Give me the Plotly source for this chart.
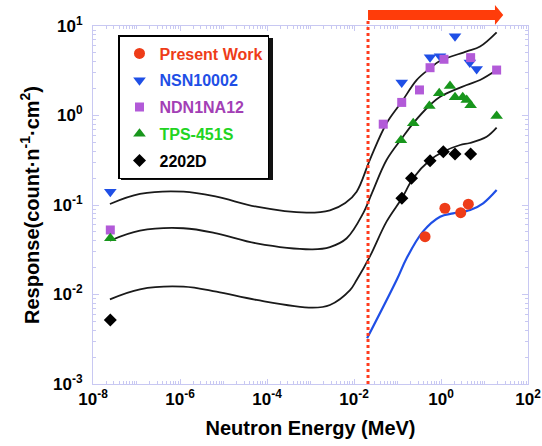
import plotly.graph_objects as go

# ---------------- data ----------------
# calculated response curves (energy in MeV, response in count n^-1 cm^2)
curve_top_E = [2.45e-8, 1.2e-7, 1.2e-6, 6.9e-6, 5.75e-5, 8.1e-4, 2.8e-3, 6.3e-3, 0.0115, 0.0234,
               0.056, 0.126, 0.275, 0.56, 0.955, 3.9, 7.9, 19]
curve_top_R = [0.1026, 0.133, 0.141, 0.124, 0.0957, 0.082, 0.087, 0.105, 0.141, 0.324,
               0.818, 1.43, 2.49, 3.37, 4.09, 5.2, 5.9, 8.5]

curve_mid_E = [2.45e-8, 1.2e-7, 1.2e-6, 6.9e-6, 5.75e-5, 1.12e-3, 2.8e-3, 6.8e-3, 0.0162, 0.0257,
               0.056, 0.126, 0.229, 0.56, 0.955, 3.9, 7.9, 19]
curve_mid_R = [0.0399, 0.0516, 0.055, 0.0483, 0.0373, 0.032, 0.0339, 0.0425, 0.0807, 0.135,
               0.318, 0.556, 0.818, 1.31, 1.62, 2.19, 2.49, 3.22]

curve_low_E = [2.45e-8, 1.2e-7, 1.2e-6, 6.9e-6, 5.75e-5, 1.12e-3, 2.8e-3, 8.1e-3, 0.0115, 0.0234,
               0.056, 0.126, 0.229, 0.56, 1.12, 2.75, 4.6, 11.2, 19]
curve_low_R = [0.00883, 0.01143, 0.01222, 0.01074, 0.00869, 0.00713, 0.00764, 0.0112, 0.0145, 0.0269,
               0.0652, 0.119, 0.199, 0.318, 0.394, 0.468, 0.493, 0.579, 0.731]

curve_blue_E = [0.02, 0.0955, 0.162, 0.38, 0.955, 1.9, 4.7, 9.3, 19]
curve_blue_R = [0.00324, 0.0145, 0.0254, 0.0501, 0.074, 0.0807, 0.0879, 0.1045, 0.147]

# measured points
present_E = [0.43, 1.23, 2.84, 4.25]
present_R = [0.0443, 0.092, 0.082, 0.102]

nsn_E = [2.5e-8, 0.125, 0.56, 0.95, 2.1, 4.6, 6.6]
nsn_R = [0.141, 2.33, 4.47, 4.6, 7.7, 3.9, 3.3]

ndn_E = [2.5e-8, 0.047, 0.125, 0.32, 0.56, 1.17, 4.8, 19]
ndn_R = [0.0526, 0.80, 1.40, 1.93, 3.42, 4.25, 4.43, 3.22]

tps_E = [2.5e-8, 0.12, 0.23, 0.54, 0.91, 1.61, 2.1, 3.16, 3.9, 4.8, 19]
tps_R = [0.0425, 0.53, 0.82, 1.28, 1.77, 2.14, 1.60, 1.60, 1.49, 1.30, 0.99]

d2202_E = [2.5e-8, 0.126, 0.21, 0.56, 1.13, 2.1, 4.8]
d2202_R = [0.0052, 0.119, 0.199, 0.313, 0.394, 0.372, 0.372]

threshold_E = 0.021          # dotted vertical line
arrow_E = [0.021, 17.4, 27]  # start, head base, tip

x_ticks = [1e-8, 1e-6, 1e-4, 1e-2, 1e0, 1e2]
x_ticktext = ["10<sup>-8</sup>", "10<sup>-6</sup>", "10<sup>-4</sup>", "10<sup>-2</sup>",
              "10<sup>0</sup>", "10<sup>2</sup>"]
y_ticks = [1e-3, 1e-2, 1e-1, 1e0, 1e1]
y_ticktext = ["10<sup>-3</sup>", "10<sup>-2</sup>", "10<sup>-1</sup>", "10<sup>0</sup>", "10<sup>1</sup>"]

# ---------------- styling ----------------
RED = "#ee3c18"
BLUE = "#1f4fe6"
PURPLE = "#b25ad8"
GREEN_M = "#18961c"
GREEN_T = "#22d422"
PURPLE_T = "#a33fb5"
FRAME = "#c8c8f2"
FONT = "Liberation Sans, Arial, sans-serif"

fig = go.Figure()

for E, R in [(curve_top_E, curve_top_R), (curve_mid_E, curve_mid_R), (curve_low_E, curve_low_R)]:
    fig.add_trace(go.Scatter(x=E, y=R, mode="lines", line=dict(color="#1a1a1a", width=1.8, shape="spline", smoothing=1.0),
                             showlegend=False, hoverinfo="skip"))
fig.add_trace(go.Scatter(x=curve_blue_E, y=curve_blue_R, mode="lines",
                         line=dict(color=BLUE, width=2.2, shape="spline", smoothing=1.0),
                         showlegend=False, hoverinfo="skip"))

series = [
    ("Present Work", present_E, present_R, "circle", RED, 11, RED),
    ("NSN10002", nsn_E, nsn_R, "triangle-down", BLUE, 11, BLUE),
    ("NDN1NA12", ndn_E, ndn_R, "square", PURPLE, 9, PURPLE_T),
    ("TPS-451S", tps_E, tps_R, "triangle-up", GREEN_M, 11, GREEN_T),
    ("2202D", d2202_E, d2202_R, "diamond", "#000000", 10, "#000000"),
]
for i, (name, E, R, sym, col, size, tcol) in enumerate(series):
    fig.add_trace(go.Scatter(
        x=E, y=R, mode="markers",
        marker=dict(symbol=sym, color=col, size=size, line=dict(width=0)),
        name=f"<span style='color:{tcol}'>{name}</span>",
        legendgroup=f"g{i}", cliponaxis=False))

# plot area in pixels: x 93..528, y 26..384
def py(px):
    return (384 - px) / 358.0
def pxp(px):
    return (px - 93) / 435.0

shapes = [
    # dotted threshold line
    dict(type="line", xref="x", yref="paper", x0=threshold_E, x1=threshold_E, y0=0, y1=py(19),
         line=dict(color="#ff3c1e", width=3, dash="dot"), layer="above"),
    # arrow
    dict(type="path", xref="x", yref="paper",
         path=(f"M {arrow_E[0]} {py(10)} L {arrow_E[1]} {py(10)} L {arrow_E[1]} {py(5)} "
               f"L {arrow_E[2]} {py(15)} L {arrow_E[1]} {py(25)} L {arrow_E[1]} {py(20)} "
               f"L {arrow_E[0]} {py(20)} Z"),
         fillcolor="#ff3c0a", line=dict(width=0), layer="above"),
    # legend shadow
    dict(type="rect", xref="paper", yref="paper", x0=pxp(121), x1=pxp(273), y0=py(180), y1=py(38),
         fillcolor="#111111", line=dict(width=0), layer="above"),
]

fig.update_layout(
    width=542, height=446,
    margin=dict(l=93, r=14, t=26, b=62, autoexpand=False),
    paper_bgcolor="white", plot_bgcolor="white",
    font=dict(family=FONT, size=16, color="#000000"),
    shapes=shapes,
    showlegend=True,
    legend=dict(x=pxp(118), y=py(35), xanchor="left", yanchor="top",
                bgcolor="white", bordercolor="#000000", borderwidth=1.5,
                font=dict(family=FONT, size=16, color="#000000", weight="bold"),
                tracegroupgap=3, itemsizing="trace"),
    xaxis=dict(type="log", range=[-8, 2], showgrid=False, zeroline=False, automargin=False,
               showline=True, linecolor=FRAME, linewidth=1, mirror="ticks",
               ticks="inside", ticklen=5, tickcolor=FRAME, tickwidth=1,
               tickvals=x_ticks, ticktext=x_ticktext,
               tickfont=dict(family=FONT, size=17, weight="bold"),
               minor=dict(ticks="inside", ticklen=3, tickcolor=FRAME, dtick="D1", showgrid=False),
               title=dict(text="Neutron Energy (MeV)", font=dict(family=FONT, size=20, weight="bold"), standoff=12)),
    yaxis=dict(type="log", range=[-3, 1], showgrid=False, zeroline=False, automargin=False,
               showline=True, linecolor=FRAME, linewidth=1, mirror="ticks",
               ticks="inside", ticklen=6, tickcolor=FRAME, tickwidth=1,
               tickvals=y_ticks, ticktext=y_ticktext,
               tickfont=dict(family=FONT, size=17, weight="bold"), ticklabelstandoff=6,
               minor=dict(ticks="inside", ticklen=3, tickcolor=FRAME, dtick="D1", showgrid=False),
               title=dict(text="Response(count·n<sup>-1</sup>·cm<sup>2</sup>)",
                          font=dict(family=FONT, size=20, weight="bold"), standoff=8)),
)

fig.write_html("out.html", config={"displayModeBar": False},
               post_script="document.body.style.margin='0';document.body.style.overflow='hidden';")
